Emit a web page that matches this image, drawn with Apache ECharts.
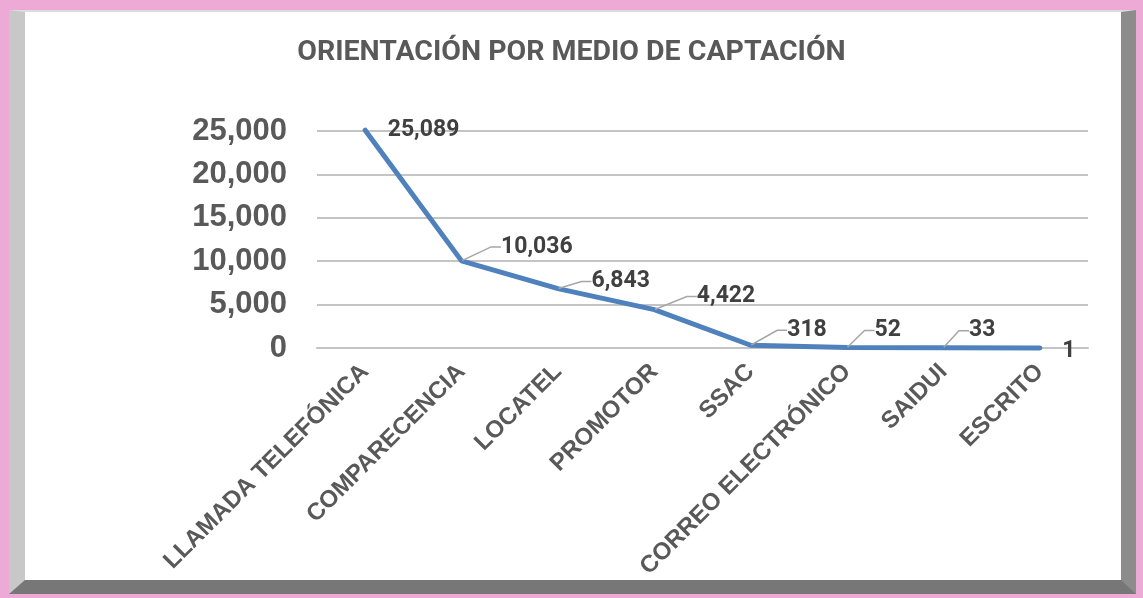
<!DOCTYPE html>
<html><head><meta charset="utf-8">
<script src="https://cdn.jsdelivr.net/npm/echarts@6/dist/echarts.min.js"></script>
<style>
html,body{margin:0;padding:0;width:1143px;height:598px;overflow:hidden;background:#eeaad6;}
#frame{position:absolute;left:9px;top:10px;width:1096px;height:568px;background:#fff;
 border-left:16px solid #c8c8c8;border-top:2px solid #dcdcdc;border-right:15px solid #8c8c8c;border-bottom:14px solid #777777;}
#chart{position:absolute;left:0;top:0;width:1143px;height:598px;}
</style></head>
<body>
<div id="frame"></div>
<div id="chart"></div>
<script>
const titleText = 'ORIENTACIÓN POR MEDIO DE CAPTACIÓN';
const categories = ['LLAMADA TELEFÓNICA','COMPARECENCIA','LOCATEL','PROMOTOR','SSAC','CORREO ELECTRÓNICO','SAIDUI','ESCRITO'];
const values = [25089, 10036, 6843, 4422, 318, 52, 33, 1];
const yTicks = [0, 5000, 10000, 15000, 20000, 25000];

const labelShift = [[17,0],[34,-14],[28,-7],[37,-13],[31,-15],[22,-17],[20,-17],[17,3]];
const noGuide = [0,7];

const chart = echarts.init(document.getElementById('chart'), null, {renderer:'canvas'});
const fmt = v => v.toLocaleString('en-US');
const labelBase = {position:'right',distance:5,formatter:p=>fmt(p.value),
      fontFamily:'Roboto',fontWeight:'bold',fontSize:23,color:'#404040'};
const layoutFn = function(p){const s=labelShift[p.dataIndex];return {dx:s[0],dy:s[1]};};
chart.setOption({
  animation:false,
  title:{text:titleText,left:'center',top:33,textStyle:{fontFamily:'Roboto',fontWeight:'bold',fontSize:28.5,color:'#595959'}},
  grid:{left:317,right:55,top:131,bottom:250,containLabel:false},
  xAxis:{type:'category',data:categories,boundaryGap:true,
    axisLine:{show:true,lineStyle:{color:'#c4c4c4',width:2}},axisTick:{show:false},
    axisLabel:{rotate:45,margin:20,interval:0,fontFamily:'Liberation Sans',fontWeight:'bold',fontSize:24,color:'#595959'}},
  yAxis:{type:'value',min:yTicks[0],max:yTicks[yTicks.length-1],interval:5000,
    axisLine:{show:false},axisTick:{show:false},
    splitLine:{lineStyle:{color:'#c4c4c4',width:2}},
    axisLabel:{margin:30,fontFamily:'Liberation Sans',fontWeight:'bold',fontSize:31,color:'#595959',formatter:fmt}},
  series:[{type:'line',clip:false,z:3,
    data:values.map((v,i)=>({value:v,label:{show:noGuide.indexOf(i)<0}})),
    symbol:'circle',symbolSize:1,showSymbol:true,
    itemStyle:{color:'#4f81bd'},
    lineStyle:{color:'#4f81bd',width:5,cap:'round',join:'round'},
    label:Object.assign({show:true},labelBase),
    labelLayout:layoutFn,
    labelLine:{show:true,length2:10,lineStyle:{color:'#a6a6a6',width:1.5}}
  },{type:'line',clip:false,z:2,silent:true,
    data:values.map((v,i)=>({value:v,label:{show:noGuide.indexOf(i)>=0}})),
    symbol:'circle',symbolSize:1,showSymbol:true,
    itemStyle:{color:'#4f81bd'},
    lineStyle:{width:0,opacity:0},
    label:Object.assign({show:true},labelBase),
    labelLayout:layoutFn,
    labelLine:{show:false}
  }]
});
</script>
</body></html>
